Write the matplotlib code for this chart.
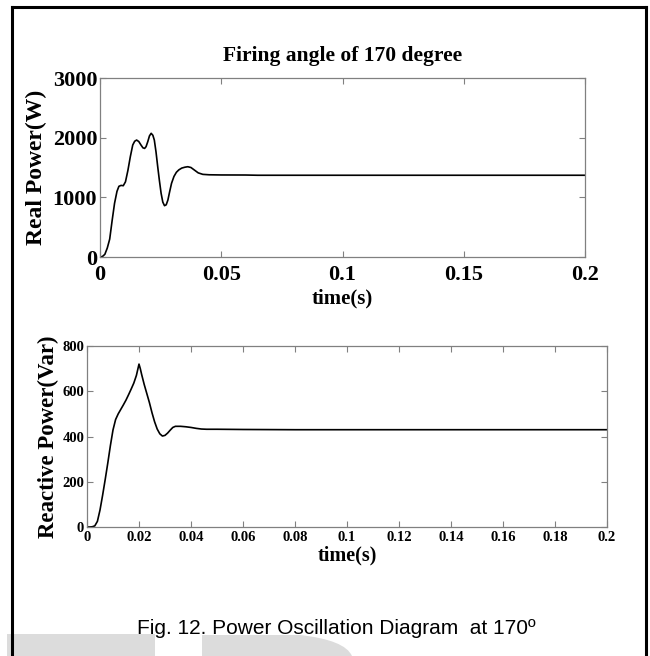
import matplotlib
matplotlib.use("Agg")
import matplotlib.pyplot as plt
from matplotlib.lines import Line2D
from matplotlib.patches import Rectangle, PathPatch
from matplotlib.path import Path

# ---------------- data ----------------
t_real = [0, 0.001, 0.002, 0.003, 0.004, 0.005, 0.006, 0.007, 0.0078, 0.0087,
          0.0096, 0.0105, 0.0115, 0.0125, 0.0135, 0.0143, 0.0151, 0.016, 0.0169,
          0.0177, 0.0184, 0.019, 0.0197, 0.0204, 0.0211, 0.0218, 0.0224, 0.0231,
          0.0238, 0.0245, 0.0252, 0.0259, 0.0266, 0.0273, 0.0280, 0.0287, 0.0295,
          0.0305, 0.0315, 0.0325, 0.0337, 0.0350, 0.0362, 0.0375, 0.039, 0.0405,
          0.0424, 0.045, 0.05, 0.06, 0.065, 0.1, 0.15, 0.2]
p_real = [0, 8, 45, 150, 300, 610, 900, 1100, 1185, 1200,
          1195, 1260, 1450, 1680, 1877, 1940, 1960, 1935, 1877,
          1830, 1820, 1850, 1933, 2030, 2073, 2040, 1960, 1760,
          1513, 1280, 1067, 920, 860, 875, 955, 1090, 1235,
          1350, 1420, 1460, 1490, 1505, 1513, 1500, 1455, 1410,
          1385, 1378, 1375, 1374, 1370, 1370, 1370, 1370]

t_q = [0, 0.001, 0.002, 0.003, 0.004, 0.005, 0.006, 0.007, 0.008, 0.009,
       0.010, 0.011, 0.012, 0.013, 0.014, 0.015, 0.016, 0.017, 0.018, 0.019,
       0.0195, 0.020, 0.0205, 0.021, 0.022, 0.023, 0.024, 0.025, 0.026, 0.027,
       0.028, 0.029, 0.030, 0.031, 0.032, 0.033, 0.034, 0.036, 0.038, 0.040,
       0.042, 0.044, 0.046, 0.05, 0.06, 0.08, 0.1, 0.15, 0.2]
q_react = [0, 0, 1, 5, 25, 75, 140, 210, 283, 360,
           429, 475, 500, 520, 540, 561, 585, 610, 636, 670,
           695, 720, 700, 675, 630, 590, 550, 505, 465, 433,
           412, 402, 405, 415, 428, 440, 445, 445, 443, 440,
           436, 433, 432, 432, 431, 430, 430, 430, 430]

top_xticks = [0, 0.05, 0.1, 0.15, 0.2]
top_xticklabels = ["0", "0.05", "0.1", "0.15", "0.2"]
top_yticks = [0, 1000, 2000, 3000]
bot_xticks = [0, 0.02, 0.04, 0.06, 0.08, 0.1, 0.12, 0.14, 0.16, 0.18, 0.2]
bot_xticklabels = ["0", "0.02", "0.04", "0.06", "0.08", "0.1", "0.12",
                   "0.14", "0.16", "0.18", "0.2"]
bot_yticks = [0, 200, 400, 600, 800]

title_text = "Firing angle of 170 degree"
top_ylabel = "Real Power(W)"
bot_ylabel = "Reactive Power(Var)"
xlabel_text = "time(s)"
caption = "Fig. 12. Power Oscillation Diagram  at 170º"

# ---------------- figure ----------------
W, H = 650, 656
fig = plt.figure(figsize=(W / 100, H / 100), dpi=100)
serif = "Liberation Serif"
spine_col = "#808080"


def px_axes(l, t, r, b):
    return fig.add_axes([l / W, 1 - b / H, (r - l) / W, (b - t) / H])


def style(ax, fs):
    for s in ax.spines.values():
        s.set_color(spine_col)
        s.set_linewidth(0.9)
    ax.tick_params(direction="in", top=True, right=True, length=4,
                   width=0.8, color=spine_col, labelsize=fs, pad=4)
    for lab in ax.get_xticklabels() + ax.get_yticklabels():
        lab.set_fontfamily(serif)
        lab.set_fontweight("bold")


# top axes
ax1 = px_axes(100, 78, 585, 257)
ax1.plot(t_real, p_real, color="black", lw=1.2)
ax1.set_xlim(0, 0.2)
ax1.set_ylim(0, 3000)
ax1.set_xticks(top_xticks)
ax1.set_xticklabels(top_xticklabels)
ax1.set_yticks(top_yticks)
style(ax1, 16)
ax1.tick_params(axis="y", pad=2)
ax1.tick_params(axis="x", pad=6)
ax1.set_title(title_text, fontfamily=serif, fontweight="bold", fontsize=15.5, pad=12)
ax1.set_ylabel(top_ylabel, fontfamily=serif, fontweight="bold", fontsize=17)
ax1.yaxis.set_label_coords((47 - 100) / 485, 0.5)
ax1.set_xlabel(xlabel_text, fontfamily=serif, fontweight="bold", fontsize=15, labelpad=2)

# bottom axes
ax2 = px_axes(87, 346, 607, 527)
ax2.plot(t_q, q_react, color="black", lw=1.2)
ax2.set_xlim(0, 0.2)
ax2.set_ylim(0, 800)
ax2.set_xticks(bot_xticks)
ax2.set_xticklabels(bot_xticklabels)
ax2.set_yticks(bot_yticks)
style(ax2, 10.5)
ax2.tick_params(axis="y", pad=2)
ax2.tick_params(axis="x", pad=3)
ax2.set_ylabel(bot_ylabel, fontfamily=serif, fontweight="bold", fontsize=16.5)
ax2.yaxis.set_label_coords((59 - 87) / 520, 0.5)
ax2.set_xlabel(xlabel_text, fontfamily=serif, fontweight="bold", fontsize=14.5, labelpad=1)

# watermark shapes
fig.patches.append(Rectangle((7 / W, 0), (155 - 7) / W, (H - 634) / H,
                             transform=fig.transFigure, facecolor="#dcdcdc",
                             edgecolor="none", zorder=0))
verts = [(202, 656), (202, 635), (300, 635), (345, 640), (352, 656), (202, 656)]
codes = [Path.MOVETO, Path.LINETO, Path.LINETO, Path.CURVE3, Path.CURVE3, Path.CLOSEPOLY]
verts = [(x / W, 1 - y / H) for x, y in verts]
fig.patches.append(PathPatch(Path(verts, codes), transform=fig.transFigure,
                             facecolor="#dcdcdc", edgecolor="none", zorder=0))

# caption
fig.text(137 / W, 1 - 629 / H, caption, fontfamily="Liberation Sans",
         fontsize=15, ha="left", va="center")

# outer frame (open at bottom)
lw = 2.2
fig.add_artist(Line2D([12 / W, 12 / W], [0, 1 - 7 / H], transform=fig.transFigure,
                      color="black", lw=lw))
fig.add_artist(Line2D([12 / W, 646 / W], [1 - 7 / H, 1 - 7 / H], transform=fig.transFigure,
                      color="black", lw=lw))
fig.add_artist(Line2D([646 / W, 646 / W], [0, 1 - 7 / H], transform=fig.transFigure,
                      color="black", lw=lw))

fig.savefig("out.png", dpi=100)
